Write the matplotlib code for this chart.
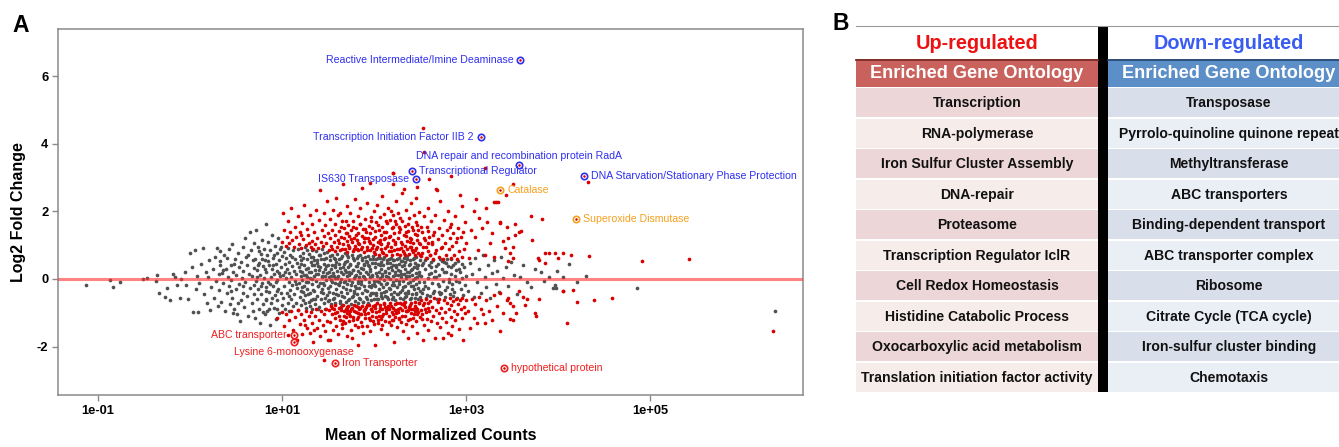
import numpy as np
import matplotlib
matplotlib.use("Agg")
import matplotlib.pyplot as plt
from matplotlib.patches import Rectangle

plt.rcParams['font.family'] = ['Liberation Sans', 'DejaVu Sans']

# MA plot points: "log10(mean count),log2 fold change"
grey_pts = """
-1.13,-0.18 -0.87,-0.02 -0.84,-0.24 -0.76,-0.08 -0.51,0.00 -0.47,0.03 -0.37,-0.06 -0.36,0.12
-0.34,-0.40 -0.27,-0.52 -0.25,-0.27 -0.22,-0.62 -0.19,0.14 -0.16,0.05 -0.14,-0.18 -0.10,0.00
-0.11,-0.57 -0.04,-0.18 -0.02,-0.59 0.00,0.77 0.05,0.86 0.14,0.92 0.03,-0.97 0.09,-0.97
0.22,-0.92 0.29,0.92 0.33,0.83 -0.06,0.20 0.02,0.35 0.06,-0.30 0.08,0.10 0.10,-0.12 0.12,0.45
0.15,-0.45 0.17,0.22 0.18,-0.70 0.20,0.05 0.21,0.55 0.23,-0.25 0.25,0.30 0.26,-0.55 0.27,0.65
0.28,-0.05 0.30,-0.80 0.31,0.15 0.32,0.40
0.31,-0.33 0.33,0.52 0.34,-0.68 0.35,0.18 0.36,-0.12 0.37,0.71 0.38,-0.95 0.39,0.30 0.40,-0.42
0.41,0.05 0.42,0.88 0.42,-0.22 0.43,-0.75 0.44,0.41 0.45,-0.02 0.46,1.02 0.46,-0.55 0.47,0.22
0.48,-0.88 0.49,0.60 0.50,-0.30 0.50,0.12 0.51,-1.05 0.52,0.78 0.53,-0.15 0.53,0.35 0.54,-1.24
0.55,0.50 0.55,-0.62 0.56,0.02 0.57,0.95 0.57,-0.40 0.58,0.25 0.59,-0.82 0.60,1.20 0.60,-0.08
0.61,0.66 0.62,-0.50 0.62,0.40 0.63,-1.10 0.64,0.15 0.65,1.40 0.65,-0.28 0.66,0.85 0.67,-0.70
0.67,0.08 0.68,0.55 0.68,-0.95 0.69,-0.18 0.69,1.05 0.70,0.32 0.70,-0.45 0.44,-0.35 0.48,0.45
0.52,-0.70 0.58,-0.20 0.63,0.70 0.36,0.28 0.40,0.62 0.47,-1.00
0.71,-1.15 0.71,0.60 0.72,-0.05 0.72,1.45 0.73,-0.60 0.73,0.28 0.74,0.95 0.74,-0.30 0.75,-0.90
0.75,0.48 0.76,0.12 0.76,-1.30 0.77,0.75 0.77,-0.45 0.78,1.15 0.78,-0.12 0.79,0.38 0.79,-0.75
0.80,0.02 0.80,0.88 0.81,-1.05 0.81,0.55 0.82,1.62 0.82,-0.25 0.83,0.20 0.83,-0.58 0.84,0.70
0.84,-0.95 0.85,-0.08 0.85,1.10 0.86,0.42 0.86,-0.38 0.87,-1.35 0.87,0.85 0.88,0.05 0.88,-0.70
0.89,0.30 0.89,1.30 0.90,-0.20 0.90,0.62 0.91,-0.85 0.91,0.15 0.92,0.98 0.92,-0.48 0.93,-1.18
0.93,0.45 0.94,-0.02 0.94,0.78 0.95,-0.62 0.95,0.25 0.96,1.20 0.96,-0.30 0.97,0.55 0.97,-1.00
0.98,0.08 0.98,0.90 0.99,-0.42 0.99,0.35 1.00,-0.78 1.00,0.68 0.73,0.05 0.75,0.82 0.77,-0.20
0.79,-0.98 0.81,0.30 0.83,-0.35 0.85,0.52 0.87,-0.15 0.89,-0.55 0.91,0.72 0.93,-0.10 0.95,-0.88
0.97,0.18 0.99,0.95 0.74,0.40 0.78,0.58 0.82,-0.62 0.86,-0.90 0.90,0.40 0.94,-0.35
1.01,0.12 1.01,-0.55 1.02,0.80 1.02,-0.22 1.03,0.45 1.03,-0.88 1.04,0.02 1.04,0.62 1.05,-0.40
1.05,0.30 1.06,-0.70 1.06,0.92 1.07,-0.10 1.07,0.50 1.08,-0.95 1.08,0.18 1.09,-0.32 1.09,0.72
1.10,0.05 1.10,-0.60 1.11,0.38 1.11,-0.18 1.12,0.85 1.12,-0.80 1.13,0.25 1.13,-0.45 1.14,0.60
1.14,-0.05 1.15,-0.72 1.15,0.15 1.16,0.48 1.16,-0.28 1.17,0.88 1.17,-0.92 1.18,-0.12 1.18,0.35
1.19,0.68 1.19,-0.52 1.20,0.08 1.20,-0.35 1.21,0.55 1.21,-0.78 1.22,0.22 1.22,-0.02 1.23,0.78
1.23,-0.62 1.24,-0.20 1.24,0.42 1.25,0.95 1.25,-0.48 1.26,0.12 1.26,-0.85 1.27,0.58 1.27,-0.30
1.28,0.32 1.28,-0.08 1.29,0.75 1.29,-0.68 1.30,0.02 1.30,-0.42 1.31,0.50 1.31,0.20 1.32,-0.90
1.32,0.85 1.33,-0.15 1.33,0.40 1.34,-0.58 1.34,0.65 1.35,0.10 1.35,-0.35 1.36,0.28 1.36,-0.75
1.37,0.82 1.37,-0.05 1.38,0.48 1.38,-0.50 1.39,0.15 1.39,-0.22 1.40,0.70 1.40,-0.82 1.41,0.35
1.41,-0.12 1.42,-0.60 1.42,0.58 1.43,0.05 1.43,0.88 1.44,-0.40 1.44,0.22 1.45,-0.70 1.45,0.45
1.46,-0.18 1.46,0.78 1.47,0.30 1.47,-0.88 1.48,-0.02 1.48,0.62 1.49,-0.48 1.49,0.18 1.50,0.40
1.50,-0.28 1.03,0.20 1.07,-0.50 1.11,0.65 1.15,-0.15 1.19,0.25 1.23,-0.38 1.27,0.05 1.31,-0.62
1.35,0.55 1.39,0.38 1.43,-0.30 1.47,0.10
1.51,0.05 1.51,-0.62 1.52,0.55 1.52,-0.20 1.53,0.30 1.53,-0.75 1.54,0.72 1.54,-0.08 1.55,-0.42
1.55,0.18 1.56,0.62 1.56,-0.55 1.57,-0.12 1.57,0.40 1.58,0.02 1.58,-0.70 1.59,0.50 1.59,-0.30
1.60,0.25 1.60,0.75 1.61,-0.48 1.61,0.10 1.62,-0.18 1.62,0.58 1.63,-0.65 1.63,0.32 1.64,0.00
1.64,-0.38 1.65,0.68 1.65,-0.78 1.66,0.15 1.66,-0.25 1.67,0.45 1.67,-0.52 1.68,0.78 1.68,-0.05
1.69,0.22 1.69,-0.68 1.70,0.52 1.70,-0.15 1.71,0.08 1.71,-0.42 1.72,0.65 1.72,0.35 1.73,-0.60
1.73,-0.02 1.74,0.42 1.74,-0.32 1.75,0.18 1.75,-0.75 1.76,0.70 1.76,-0.10 1.77,0.28 1.77,-0.50
1.78,0.55 1.78,0.02 1.79,-0.22 1.79,-0.66 1.80,0.38 1.80,0.12 1.81,-0.45 1.81,0.62 1.82,-0.05
1.82,-0.72 1.83,0.25 1.83,0.48 1.84,-0.28 1.84,0.05 1.85,0.72 1.85,-0.58 1.86,-0.15 1.86,0.32
1.87,0.55 1.87,-0.40 1.88,0.10 1.88,-0.68 1.89,0.42 1.89,-0.22 1.90,0.65 1.90,0.00 1.91,-0.52
1.91,0.22 1.92,0.50 1.92,-0.35 1.93,-0.70 1.93,0.15 1.94,0.38 1.94,-0.10 1.95,0.60 1.95,-0.48
1.96,0.05 1.96,0.30 1.97,-0.62 1.97,-0.25 1.98,0.48 1.98,0.12 1.99,-0.40 1.99,0.68 2.00,-0.05
2.00,-0.58 1.53,0.10 1.58,0.35 1.63,-0.10 1.68,0.28 1.73,0.20 1.78,-0.35 1.83,-0.12 1.88,0.30
1.93,0.40 1.98,-0.18
2.01,0.35 2.01,-0.22 2.02,0.58 2.02,-0.48 2.03,0.10 2.03,-0.05 2.04,0.45 2.04,-0.60 2.05,0.22
2.05,-0.30 2.06,0.62 2.06,0.02 2.07,-0.42 2.07,0.30 2.08,-0.15 2.08,0.50 2.09,-0.55 2.09,0.15
2.10,0.40 2.10,-0.25 2.11,-0.02 2.11,0.65 2.12,-0.50 2.12,0.25 2.13,0.08 2.13,-0.35 2.14,0.55
2.14,-0.12 2.15,0.32 2.15,-0.58 2.16,0.18 2.16,-0.28 2.17,0.48 2.17,0.00 2.18,-0.45 2.18,0.62
2.19,-0.18 2.19,0.28 2.20,0.10 2.20,-0.52 2.21,0.42 2.21,-0.08 2.22,0.55 2.22,-0.38 2.23,0.20
2.23,-0.62 2.24,0.35 2.24,-0.02 2.25,-0.25 2.25,0.60 2.26,0.12 2.26,-0.45 2.27,0.45 2.27,-0.15
2.28,0.25 2.28,-0.55 2.29,0.05 2.29,0.52 2.30,-0.32 2.30,0.38 2.31,-0.05 2.31,-0.60 2.32,0.62
2.32,0.15 2.33,-0.22 2.33,0.30 2.34,-0.42 2.34,0.50 2.35,0.02 2.35,-0.50 2.36,0.22 2.36,0.68
2.37,-0.12 2.37,-0.35 2.38,0.40 2.38,0.08 2.39,-0.58 2.39,0.55 2.40,-0.20 2.40,0.28 2.41,0.12
2.41,-0.45 2.42,0.60 2.42,-0.02 2.43,0.35 2.43,-0.30 2.44,-0.55 2.44,0.48 2.45,0.18 2.45,-0.15
2.46,0.65 2.46,-0.40 2.47,0.05 2.47,0.32 2.48,-0.60 2.48,0.42 2.49,-0.10 2.49,0.22 2.50,0.55
2.50,-0.35
2.51,0.10 2.52,-0.42 2.53,0.48 2.54,-0.08 2.55,0.30 2.56,-0.55 2.57,0.62 2.58,0.02 2.59,-0.28
2.60,0.40 2.61,-0.50 2.62,0.18 2.63,-0.12 2.64,0.55 2.65,-0.35 2.66,0.25 2.67,0.05 2.68,-0.58
2.69,0.45 2.70,-0.20 2.71,0.12 2.72,0.60 2.73,-0.40 2.74,0.30 2.75,-0.05 2.76,0.50 2.77,-0.52
2.78,0.20 2.79,-0.25 2.80,0.38 2.81,0.00 2.82,-0.45 2.83,0.58 2.84,0.15 2.85,-0.15 2.86,0.42
2.87,-0.38 2.88,0.08 2.89,0.28 2.90,-0.55 2.91,0.52 2.92,-0.10 2.93,0.22 2.94,-0.30 2.95,0.45
2.96,0.02 2.97,-0.48 2.98,0.35 2.99,-0.18 3.00,0.10 2.55,-0.22 2.62,0.35 2.70,-0.38 2.78,0.48
2.85,-0.30 2.92,0.30
3.02,-0.35 3.04,0.48 3.06,0.15 3.08,-0.52 3.10,0.62 3.12,-0.08 3.14,0.30 3.16,-0.42 3.18,0.70
3.20,0.05 3.22,-0.25 3.24,0.40 3.26,-0.55 3.28,0.18 3.30,0.55 3.32,-0.15 3.34,0.25 3.36,-0.38
3.38,0.65 3.40,0.02 3.43,0.35 3.46,-0.22 3.49,0.50 3.52,0.12 3.55,-0.45 3.59,0.06 3.62,0.42
3.66,-0.10 3.70,-0.24 3.75,0.29 3.81,0.21 3.85,-0.05 3.90,0.06 3.94,-0.28 3.96,-0.17 3.98,-0.28
3.99,0.24 4.05,0.06 4.12,0.45 4.20,-0.08 4.30,0.10 4.86,-0.27 6.36,-0.95
"""

# the dense middle of the grey cloud
grey_core_pts = """
1.205,0.45 1.215,-0.25 1.225,0.62 1.235,0.12 1.245,-0.70 1.255,0.30 1.265,-0.10 1.275,0.85
1.285,-0.45 1.295,0.20 1.305,-0.80 1.315,0.65 1.325,0.00 1.335,-0.32 1.345,0.40 1.355,-0.60
1.365,0.15 1.375,0.55 1.385,-0.20 1.395,-0.88 1.405,0.28 1.415,0.72 1.425,-0.38 1.435,0.10
1.445,-0.12 1.455,0.60 1.465,-0.55 1.475,0.38 1.485,0.80 1.495,-0.65
1.505,0.22 1.515,-0.38 1.525,0.68 1.535,-0.02 1.545,0.42 1.555,-0.60 1.565,0.10 1.575,0.58
1.585,-0.45 1.595,0.02 1.605,-0.15 1.615,0.45 1.625,-0.72 1.635,0.62 1.645,0.20 1.655,-0.50
1.665,0.35 1.675,-0.08 1.685,0.50 1.695,-0.30 1.705,0.72 1.715,-0.62 1.725,0.12 1.735,0.45
1.745,-0.18 1.755,-0.52 1.765,0.28 1.775,0.62 1.785,-0.40 1.795,0.08 1.805,-0.28 1.815,0.38
1.825,0.68 1.835,-0.55 1.845,0.18 1.855,-0.05 1.865,0.62 1.875,-0.68 1.885,0.45 1.895,0.05
1.905,-0.32 1.915,0.52 1.925,-0.58 1.935,0.68 1.945,-0.22 1.955,0.25 1.965,-0.42 1.975,0.10
1.985,0.58 1.995,-0.15
2.005,0.48 2.015,-0.40 2.025,0.18 2.035,-0.58 2.045,0.62 2.055,-0.10 2.065,0.40 2.075,-0.50
2.085,0.08 2.095,0.58 2.105,-0.38 2.115,0.20 2.125,-0.15 2.135,0.48 2.145,-0.52 2.155,0.05
2.165,0.60 2.175,-0.30 2.185,0.35 2.195,-0.58 2.205,0.55 2.215,-0.18 2.225,0.12 2.235,0.42
2.245,-0.45 2.255,0.28 2.265,-0.05 2.275,0.62 2.285,-0.38 2.295,0.15 2.305,0.52 2.315,-0.25
2.325,0.40 2.335,-0.52 2.345,0.08 2.355,0.58 2.365,-0.42 2.375,0.22 2.385,-0.10 2.395,0.45
2.405,-0.55 2.415,0.30 2.425,-0.20 2.435,0.62 2.445,0.02 2.455,-0.45 2.465,0.40 2.475,-0.28
2.485,0.12 2.495,-0.52
2.515,0.42 2.535,-0.30 2.555,0.55 2.575,-0.48 2.595,0.15 2.615,0.50 2.635,-0.40 2.655,0.05
2.675,0.38 2.695,-0.15 2.715,-0.45 2.735,0.52 2.755,0.20 2.775,-0.32 2.795,0.58 2.815,-0.10
2.835,0.35 2.855,-0.50 2.875,0.48 2.895,-0.05
"""

red_pts = """
1.00,1.10 1.01,1.95 1.02,1.45 1.04,0.98 1.05,1.25 1.06,1.70 1.08,1.05 1.09,1.40 1.10,2.10
1.11,1.15 1.13,0.95 1.14,1.55 1.15,1.25 1.17,1.85 1.18,1.02 1.19,1.38 1.21,0.92 1.22,1.65
1.23,1.18 1.24,2.20 1.26,1.00 1.27,1.48 1.28,1.30 1.30,1.90 1.31,0.95 1.32,1.12 1.33,1.62
1.35,1.38 1.36,1.02 1.37,2.05 1.38,1.22 1.39,0.92 1.40,1.75 1.41,2.63 1.42,1.10 1.43,1.45
1.44,0.98 1.45,1.95 1.46,1.28 1.47,1.60 1.48,1.05 1.49,2.30 1.50,1.35 1.34,0.88 1.29,1.05
1.20,1.30
1.51,0.85 1.52,1.20 1.52,1.78 1.53,0.98 1.54,1.45 1.55,2.05 1.56,1.08 1.57,0.82 1.57,1.62
1.58,1.30 1.59,2.40 1.60,0.95 1.61,1.15 1.61,1.88 1.62,1.42 1.63,0.85 1.64,1.25 1.65,1.70
1.66,2.80 1.66,1.02 1.67,1.52 1.68,0.90 1.69,1.35 1.70,2.15 1.70,1.12 1.71,0.80 1.72,1.60
1.73,1.28 1.73,0.95 1.74,1.95 1.75,1.45 1.76,1.08 1.77,0.82 1.77,1.72 1.78,1.22 1.79,2.35
1.79,0.98 1.80,1.50 1.81,1.15 1.82,0.85 1.82,1.85 1.83,1.35 1.84,1.02 1.85,2.10 1.85,1.62
1.86,0.90 1.87,2.68 1.87,1.28 1.88,1.48 1.89,0.80 1.89,1.10 1.90,1.78 1.91,1.40 1.92,0.95
1.92,2.25 1.93,1.20 1.94,1.58 1.95,0.85 1.95,1.05 1.96,2.85 1.96,1.35 1.97,1.82 1.98,0.92
1.98,1.50 1.99,1.18 2.00,0.80 2.00,2.00 1.54,0.88 1.63,1.95 1.72,1.00 1.81,0.88 1.90,1.22
1.705,1.35 1.725,0.92 1.745,1.18 1.765,1.55 1.785,0.88 1.805,1.30 1.825,1.05 1.845,1.62
1.865,0.95 1.885,1.22 1.905,1.48 1.925,0.85 1.945,1.12 1.965,1.70 1.985,1.00 1.615,1.05
1.635,1.55 1.655,0.88 1.675,1.20 1.695,1.72
2.01,1.25 2.01,0.75 2.02,1.68 2.03,0.95 2.03,2.20 2.04,1.10 2.05,1.45 2.05,0.72 2.06,1.82
2.07,0.88 2.07,1.30 2.08,1.02 2.09,2.45 2.09,1.55 2.10,0.78 2.11,1.18 2.11,1.92 2.12,0.92
2.13,1.40 2.13,0.70 2.14,1.65 2.15,1.05 2.15,2.10 2.16,0.82 2.17,1.28 2.17,1.75 2.18,0.95
2.19,1.50 2.19,0.72 2.20,3.13 2.20,1.15 2.21,1.88 2.22,0.85 2.22,1.35 2.23,1.02 2.24,1.62
2.24,2.30 2.25,0.75 2.26,1.22 2.26,1.95 2.27,0.90 2.28,1.48 2.28,0.70 2.29,1.10 2.30,1.72
2.30,2.55 2.31,0.82 2.32,2.67 2.32,1.30 2.33,0.98 2.34,1.58 2.34,0.72 2.35,2.05 2.36,1.12
2.36,0.88 2.37,1.42 2.38,1.80 2.38,0.75 2.39,1.20 2.40,0.95 2.40,2.25 2.41,1.55 2.42,0.80
2.42,1.05 2.43,1.90 2.44,1.32 2.44,0.70 2.45,1.68 2.46,0.92 2.46,2.40 2.47,1.15 2.48,0.78
2.48,1.45 2.49,1.98 2.50,1.02 2.50,0.70 2.12,1.22 2.18,2.00 2.23,1.70 2.29,0.92 2.35,1.38
2.41,0.85 2.47,1.60 2.06,1.05 2.27,1.55 2.39,1.08
2.005,1.42 2.025,0.88 2.045,1.60 2.065,1.15 2.085,0.80 2.105,1.38 2.125,1.72 2.145,0.98
2.165,1.25 2.185,0.82 2.205,1.55 2.225,1.10 2.245,0.90 2.265,1.40 2.285,1.80 2.305,1.02
2.325,0.78 2.345,1.28 2.365,1.62 2.385,0.95 2.405,1.18 2.425,1.45 2.445,0.85 2.465,1.30
2.485,1.05
2.51,0.68 2.52,1.40 2.53,0.95 2.54,1.85 2.55,1.15 2.56,0.62 2.57,1.55 2.58,0.82 2.59,2.10
2.60,1.25 2.61,0.70 2.62,1.70 2.63,1.02 2.64,0.60 2.65,1.38 2.66,1.90 2.67,0.85 2.68,2.63
2.69,1.18 2.70,0.65 2.71,1.52 2.72,2.31 2.73,0.92 2.74,1.30 2.75,0.60 2.76,1.75 2.77,1.05
2.78,0.72 2.79,1.45 2.80,2.00 2.81,0.88 2.82,1.20 2.83,0.62 2.84,1.62 2.85,0.98 2.86,1.35
2.87,0.70 2.88,1.85 2.89,1.10 2.90,0.58 2.91,1.50 2.92,0.82 2.93,2.48 2.94,1.25 2.95,2.17
2.96,0.65 2.97,1.40 2.98,0.90 2.99,1.68 3.00,1.05 2.58,1.05 2.66,0.78 2.74,0.95 2.82,1.55
2.90,1.22 2.505,1.55 2.525,0.78 2.545,1.20 2.565,0.95 2.585,1.42 2.605,0.72 2.625,1.10
2.645,1.30
3.03,0.62 3.08,2.02 3.10,1.25 3.13,0.85 3.17,1.50 3.20,0.70 3.22,2.09 3.23,1.69 3.26,1.05
3.30,0.66 3.32,2.27 3.35,2.29 3.37,1.69 3.40,1.12 3.42,0.92 3.46,0.54 3.48,0.77 3.51,0.62
3.53,1.30 3.57,1.40 3.60,1.43 3.14,1.80 3.28,1.35 3.05,1.45 3.44,1.55 3.46,1.20 3.51,0.95
3.70,1.86 3.71,1.15 3.78,0.62 3.79,0.55 3.82,1.77 3.86,0.47 3.86,0.76 3.90,0.77 3.97,0.78
4.00,0.62 4.05,0.78 4.14,0.71 4.33,0.69 4.91,0.52 5.42,0.58 3.53,1.62 3.37,1.66
2.53,4.47 2.54,3.76 3.20,3.28 2.21,3.14 2.83,3.05 2.20,2.82 3.51,2.81 3.43,2.48 3.30,2.29
3.11,2.36 2.67,2.66 4.32,2.88 2.47,2.72 2.60,2.95
1.00,-0.99 0.95,-1.16 1.02,-1.40 1.04,-1.05 1.06,-1.65 1.08,-1.20 1.10,-0.95 1.12,-1.50
1.14,-1.12 1.16,-1.80 1.17,-0.92 1.19,-1.32 1.21,-1.05 1.22,-1.62 1.24,-1.20 1.26,-0.95
1.27,-1.45 1.29,-1.10 1.30,-1.60 1.31,-0.98 1.33,-1.30 1.34,-1.85 1.36,-1.08 1.37,-0.90
1.38,-1.45 1.40,-1.22 1.41,-1.70 1.42,-0.95 1.44,-1.35 1.45,-2.40 1.46,-1.05 1.47,-1.55
1.48,-0.88 1.49,-1.25 1.50,-1.80 1.25,-1.35 1.35,-1.50
1.51,-0.92 1.52,-1.28 1.53,-0.80 1.54,-1.05 1.55,-1.52 1.56,-0.88 1.57,-1.15 1.58,-0.78
1.59,-1.38 1.60,-0.98 1.61,-1.62 1.62,-0.85 1.63,-1.20 1.64,-0.92 1.65,-1.45 1.66,-0.78
1.67,-1.08 1.68,-1.30 1.69,-0.88 1.70,-1.70 1.71,-1.02 1.72,-0.80 1.73,-1.25 1.74,-0.95
1.75,-1.50 1.76,-1.75 1.76,-0.85 1.77,-1.12 1.78,-0.78 1.79,-1.35 1.80,-0.98 1.81,-1.18
1.82,-0.82 1.83,-1.95 1.83,-1.42 1.84,-0.90 1.85,-1.05 1.86,-1.28 1.87,-0.80 1.88,-1.60
1.89,-0.95 1.90,-1.15 1.91,-0.82 1.92,-1.38 1.93,-1.00 1.94,-0.78 1.95,-1.22 1.96,-1.55
1.97,-0.88 1.98,-1.10 1.99,-0.80 2.00,-1.32 1.58,-1.02 1.66,-1.25 1.74,-1.10 1.82,-1.00
1.90,-0.88 1.98,-0.95 1.54,-0.85 1.70,-0.92 1.86,-1.05 1.52,-1.80
1.705,-0.82 1.725,-1.05 1.745,-0.88 1.765,-1.22 1.785,-0.95 1.805,-0.80 1.825,-1.12 1.845,-0.85
1.865,-1.38 1.885,-0.92 1.905,-1.05 1.925,-0.78 1.945,-1.15 1.965,-0.90 1.985,-1.25 1.615,-1.10
1.635,-0.82 1.655,-1.32 1.675,-0.95 1.695,-1.12
2.01,-1.95 2.01,-0.85 2.02,-1.12 2.03,-0.72 2.04,-1.30 2.05,-0.95 2.06,-0.78 2.07,-1.18
2.08,-1.48 2.09,-0.88 2.10,-1.05 2.11,-0.70 2.12,-1.25 2.13,-0.92 2.14,-1.62 2.15,-0.80
2.16,-1.10 2.17,-0.72 2.18,-1.35 2.19,-0.98 2.20,-0.85 2.21,-1.20 2.22,-1.85 2.23,-0.75
2.24,-1.02 2.25,-1.42 2.26,-0.88 2.27,-1.15 2.28,-0.70 2.29,-1.28 2.30,-0.92 2.31,-1.55
2.32,-0.78 2.33,-1.08 2.34,-0.68 2.35,-1.32 2.36,-0.95 2.37,-1.75 2.38,-0.82 2.39,-1.18
2.40,-0.72 2.41,-1.40 2.42,-0.90 2.43,-1.05 2.44,-0.68 2.45,-1.25 2.46,-0.85 2.47,-1.60
2.48,-0.98 2.49,-0.72 2.50,-1.12 2.05,-1.08 2.12,-0.82 2.19,-1.22 2.26,-0.98 2.33,-0.82
2.40,-1.02 2.47,-0.88 2.09,-1.35 2.23,-1.12 2.37,-0.92 2.16,-0.90 2.30,-0.75 2.44,-0.95
2.005,-0.78 2.025,-0.98 2.045,-1.20 2.065,-0.85 2.085,-1.10 2.105,-0.75 2.125,-1.02 2.145,-0.88
2.165,-1.28 2.185,-0.80 2.205,-1.05 2.225,-0.92 2.245,-0.72 2.265,-1.18 2.285,-0.85 2.305,-1.08
2.325,-0.70 2.345,-0.95 2.365,-1.22 2.385,-0.78 2.405,-0.90 2.425,-1.15 2.445,-0.80 2.465,-1.05
2.485,-0.70
2.51,-0.62 2.52,-1.05 2.53,-0.78 2.54,-1.35 2.55,-0.90 2.56,-0.58 2.57,-1.18 2.58,-0.72
2.59,-1.50 2.60,-0.95 2.61,-0.65 2.62,-1.25 2.63,-0.82 2.64,-1.10 2.65,-0.55 2.66,-1.75
2.67,-0.92 2.68,-1.30 2.69,-0.68 2.70,-1.02 2.71,-0.60 2.72,-1.42 2.73,-0.85 2.74,-1.15
2.75,-1.75 2.76,-0.62 2.77,-0.98 2.78,-1.28 2.79,-0.72 2.80,-1.60 2.81,-0.88 2.82,-0.55
2.83,-1.12 2.84,-0.78 2.85,-1.38 2.86,-0.65 2.87,-0.95 2.88,-1.22 2.89,-0.58 2.90,-1.05
2.91,-0.75 2.92,-1.48 2.93,-0.62 2.94,-0.90 2.95,-1.15 2.96,-0.55 2.97,-1.80 2.98,-0.82
2.99,-1.02 3.00,-0.62 2.53,-1.80 2.84,-1.65 2.505,-0.92 2.525,-1.18 2.545,-0.72 2.565,-0.98
2.585,-0.85
3.02,-0.95 3.04,-1.45 3.06,-0.58 3.08,-1.15 3.10,-0.75 3.12,-1.30 3.14,-0.52 3.16,-0.88
3.18,-1.05 3.20,-1.30 3.22,-0.62 3.25,-0.95 3.28,-1.20 3.30,-0.48 3.33,-0.80 3.37,-1.55
3.37,-0.42 3.40,-1.00 3.44,-0.62 3.46,-0.55 3.48,-1.18 3.48,-0.72 3.51,-1.21 3.51,-0.80
3.54,-1.00 3.57,-0.37 3.62,-0.54 3.64,-0.76 3.66,-0.59 3.75,-1.00 3.76,-1.10 3.79,-0.59
4.05,-0.35 4.05,-0.37 4.10,-1.29 4.16,-0.32 4.20,-0.67 4.39,-0.62 4.58,-0.55 6.33,-1.54
"""

def parse(block):
    arr = np.array([p.split(',') for p in block.split()], dtype=float)
    return 10 ** arr[:, 0], arr[:, 1]

grey_mean, grey_lfc = parse(grey_pts + grey_core_pts)
red_mean, red_lfc = parse(red_pts)

# highlighted genes
label_text = ['Reactive Intermediate/Imine Deaminase', 'Transcription Initiation Factor IIB 2',
              'DNA repair and recombination protein RadA', 'Transcriptional Regulator',
              'IS630 Transposase', 'DNA Starvation/Stationary Phase Protection',
              'Catalase', 'Superoxide Dismutase', 'ABC transporter',
              'Lysine 6-monooxygenase', 'Iron Transporter', 'hypothetical protein']
label_logmean = [3.59, 3.16, 3.57, 2.41, 2.45, 4.28, 3.37, 4.19, 1.13, 1.13, 1.58, 3.41]
label_lfc = [6.47, 4.20, 3.37, 3.19, 2.95, 3.04, 2.63, 1.77, -1.66, -1.86, -2.49, -2.64]
label_group = ['down'] * 6 + ['stress'] * 2 + ['up'] * 4
label_side = ['left', 'left', 'above', 'right', 'left', 'right',
              'right', 'right', 'left', 'below', 'right', 'right']
group_color = {'down': '#2f2ff0', 'stress': '#f5a01e', 'up': '#f01e1e'}

up_terms = ['Transcription', 'RNA-polymerase', 'Iron Sulfur Cluster Assembly', 'DNA-repair',
            'Proteasome', 'Transcription Regulator IclR', 'Cell Redox Homeostasis',
            'Histidine Catabolic Process', 'Oxocarboxylic acid metabolism',
            'Translation initiation factor activity']
down_terms = ['Transposase', 'Pyrrolo-quinoline quinone repeat', 'Methyltransferase',
              'ABC transporters', 'Binding-dependent transport', 'ABC transporter complex',
              'Ribosome', 'Citrate Cycle (TCA cycle)', 'Iron-sulfur cluster binding',
              'Chemotaxis']

W, H = 1339, 447
fig = plt.figure(figsize=(W / 100, H / 100), dpi=100)

# ---- panel B table, drawn in pixel coordinates
tab = fig.add_axes([0, 0, 1, 1])
tab.set_xlim(0, W)
tab.set_ylim(H, 0)
tab.axis('off')

lx0, lx1, rx0, rx1 = 856, 1098, 1108, 1350
top, head_b, eg_b, row0, rowh = 26, 59, 87, 88, 30.5
tab.plot([lx0, W], [top, top], color='#9a9a9a', lw=0.8)
tab.add_patch(Rectangle((lx0, head_b), lx1 - lx0, eg_b - head_b, color='#c9625c', lw=0))
tab.add_patch(Rectangle((rx0, head_b), rx1 - rx0, eg_b - head_b, color='#5c8fc8', lw=0))
tab.plot([lx0, lx1], [head_b + 0.5, head_b + 0.5], color='#7d2b27', lw=1.3)
tab.plot([rx0, rx1], [head_b + 0.5, head_b + 0.5], color='#2c4a75', lw=1.3)
tab.text((lx0 + lx1) / 2, (top + head_b) / 2 + 1, 'Up-regulated', color='#ee1111',
         fontsize=14.3, fontweight='bold', ha='center', va='center')
tab.text((rx0 + rx1) / 2, (top + head_b) / 2 + 1, 'Down-regulated', color='#3a5cf2',
         fontsize=14.3, fontweight='bold', ha='center', va='center')
for cx in [(lx0 + lx1) / 2, (rx0 + rx1) / 2]:
    tab.text(cx, (head_b + eg_b) / 2 + 1, 'Enriched Gene Ontology', color='white',
             fontsize=13.1, fontweight='bold', ha='center', va='center')
for i, (u, d) in enumerate(zip(up_terms, down_terms)):
    y0 = row0 + i * rowh
    tab.add_patch(Rectangle((lx0, y0), lx1 - lx0, rowh - 1.2,
                            color='#ecd6d7' if i % 2 == 0 else '#f6ecea', lw=0))
    tab.add_patch(Rectangle((rx0, y0), rx1 - rx0, rowh - 1.2,
                            color='#d8deea' if i % 2 == 0 else '#eaeef5', lw=0))
    tab.text((lx0 + lx1) / 2, y0 + rowh / 2, u, fontsize=10.1, fontweight='bold',
             ha='center', va='center', color='#111111')
    tab.text((rx0 + rx1) / 2, y0 + rowh / 2, d, fontsize=10.1, fontweight='bold',
             ha='center', va='center', color='#111111')
tab.add_patch(Rectangle((lx1, top), rx0 - lx1, row0 + 10 * rowh - top - 1, color='black', lw=0))

fig.text(12 / W, 1 - 14 / H, 'A', fontsize=16.5, fontweight='bold', ha='left', va='top')
fig.text(833 / W, 1 - 12 / H, 'B', fontsize=16.5, fontweight='bold', ha='left', va='top')

# ---- panel A MA plot
ax = fig.add_axes([58 / W, (H - 395) / H, (803 - 58) / W, (395 - 29) / H])
ax.scatter(grey_mean, grey_lfc, s=7, color='#505050', lw=0, zorder=2)
ax.scatter(red_mean, red_lfc, s=7, color='#d90000', lw=0, zorder=2)
ax.axhline(0, color='#ff3030', alpha=0.6, lw=2.2, zorder=3)

offsets = {'left': (-5, 0, 'right'), 'right': (5, 0, 'left'),
           'above': (0, 6.7, 'center'), 'below': (0, -7.2, 'center')}
for t, lm, lf, g, side in zip(label_text, label_logmean, label_lfc, label_group, label_side):
    c = group_color[g]
    ax.plot(10 ** lm, lf, 'o', ms=4.6, mfc='none', mec=c, mew=1.2, zorder=5)
    ax.plot(10 ** lm, lf, 'o', ms=1.8, mfc='#d90000', mec='none', zorder=6)
    dx, dy, ha = offsets[side]
    ax.annotate(t, (10 ** lm, lf), xytext=(dx, dy), textcoords='offset points',
                ha=ha, va='center', fontsize=7.6, color=c, zorder=6)

ax.set_xscale('log')
ax.set_xlim(10 ** -1.435, 10 ** 6.66)
ax.set_ylim(-3.43, 7.39)
ax.set_xticks([1e-1, 1e1, 1e3, 1e5])
ax.set_xticklabels(['1e-01', '1e+01', '1e+03', '1e+05'])
ax.minorticks_off()
ax.set_yticks([-2, 0, 2, 4, 6])
ax.set_yticklabels(['-2', '0', '2', '4', '6'])
for sp in ax.spines.values():
    sp.set_color('#8a8a8a')
    sp.set_linewidth(1.1)
ax.tick_params(length=4.5, width=1.0, color='#8a8a8a', pad=2.5)
for lab in ax.get_xticklabels() + ax.get_yticklabels():
    lab.set_fontweight('bold')
    lab.set_fontsize(9.3)
ax.set_xlabel('Mean of Normalized Counts', fontsize=11.5, fontweight='bold', labelpad=8)
ax.set_ylabel('Log2 Fold Change', fontsize=11.5, fontweight='bold', labelpad=8)

fig.savefig('out.png', dpi=100)
